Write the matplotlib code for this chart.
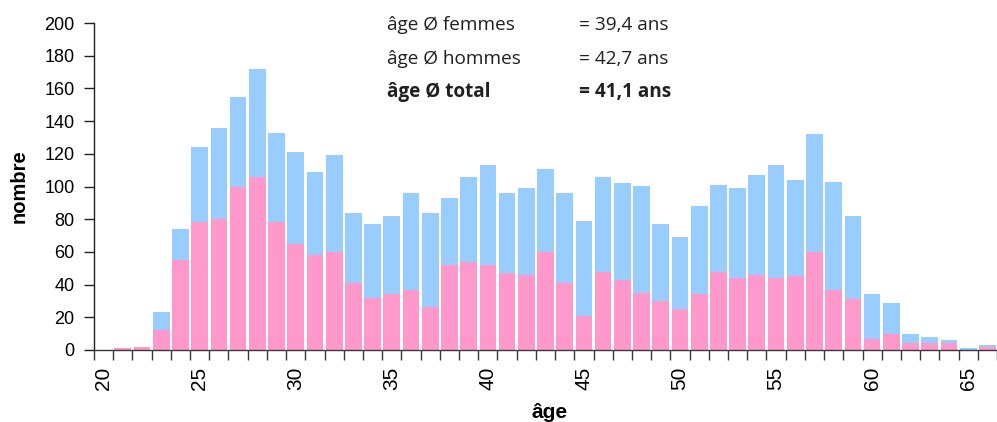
import matplotlib
matplotlib.use("Agg")
import matplotlib.pyplot as plt
import numpy as np

ages = list(range(20, 67))
women = [0, 1, 2, 12, 55, 78, 80, 100, 106, 78, 65, 58, 60, 41, 32, 34, 37, 26,
         52, 54, 52, 47, 46, 60, 41, 21, 48, 43, 35, 30, 25, 34, 48, 44, 46, 44,
         45, 60, 37, 31, 7, 10, 4, 4, 4, 0, 2]
men = [0, 0, 0, 11, 19, 46, 56, 55, 66, 55, 56, 51, 59, 43, 45, 48, 59, 58,
       41, 52, 61, 49, 53, 51, 55, 58, 58, 59, 65, 47, 44, 54, 53, 55, 61, 69,
       59, 72, 66, 51, 27, 19, 6, 4, 2, 1, 1]
label_ages = [20, 25, 30, 35, 40, 45, 50, 55, 60, 65]
stats_labels = ["âge Ø femmes", "âge Ø hommes", "âge Ø total"]
stats_values = ["= 39,4 ans", "= 42,7 ans", "= 41,1 ans"]

W, H = 997, 422
fig = plt.figure(figsize=(W / 100, H / 100), dpi=100)
left, right, bottom, top = 94, 997, 350, 23
ax = fig.add_axes([left / W, 1 - bottom / H, (right - left) / W, (bottom - top) / H])

x = np.arange(len(ages))
ax.bar(x, women, width=0.87, color="#FF99CC", linewidth=0, zorder=2)
ax.bar(x, men, width=0.87, bottom=women, color="#99CCFF", linewidth=0, zorder=2)

step = 19.41
ax.set_xlim(-0.5, -0.5 + (right - left) / step)
ax.set_ylim(0, 200)

for s in ["top", "right"]:
    ax.spines[s].set_visible(False)
ax.spines["left"].set_color("#231F20")
ax.spines["bottom"].set_color("#3a3a3a")
ax.spines["left"].set_linewidth(1.0)
ax.spines["bottom"].set_linewidth(1.0)
ax.spines["bottom"].set_zorder(3)

ax.set_yticks(np.arange(0, 201, 20))
ax.tick_params(axis="y", direction="out", length=7, width=1, color="#231F20",
               labelsize=13, pad=7)
for lab in ax.get_yticklabels():
    lab.set_family(["Liberation Sans", "DejaVu Sans"])

ax.set_xticks(np.arange(-0.5, len(ages), 1))
ax.set_xticklabels([])
ax.tick_params(axis="x", which="major", direction="out", length=7, width=1, color="#3a3a3a")
lab_pos = [ages.index(a) for a in label_ages]
ax.set_xticks(lab_pos, minor=True)
ax.set_xticklabels([str(a) for a in label_ages], minor=True, rotation=90,
                   fontsize=15, family=["Liberation Sans", "DejaVu Sans"])
ax.tick_params(axis="x", which="minor", length=0, pad=12)

fig.text(19 / W, 1 - 186 / H, "nombre", rotation=90, ha="center", va="center",
         fontsize=14.5, fontweight="bold", family=["Liberation Sans", "DejaVu Sans"])
fig.text(550 / W, 1 - 413 / H, "âge", ha="center", va="center",
         fontsize=15, fontweight="bold", family=["Liberation Sans", "DejaVu Sans"])

baselines = [30, 64, 97]
for i, (lab, val) in enumerate(zip(stats_labels, stats_values)):
    fw = "bold" if i == 2 else "normal"
    fig.text(387 / W, 1 - baselines[i] / H, lab, ha="left", va="baseline",
             fontsize=13.7, fontweight=fw, color="#231F20",
             family=["Open Sans", "DejaVu Sans"])
    fig.text(579 / W, 1 - baselines[i] / H, val, ha="left", va="baseline",
             fontsize=13.7, fontweight=fw, color="#231F20",
             family=["Open Sans", "DejaVu Sans"])

fig.savefig("out.png", dpi=100)
